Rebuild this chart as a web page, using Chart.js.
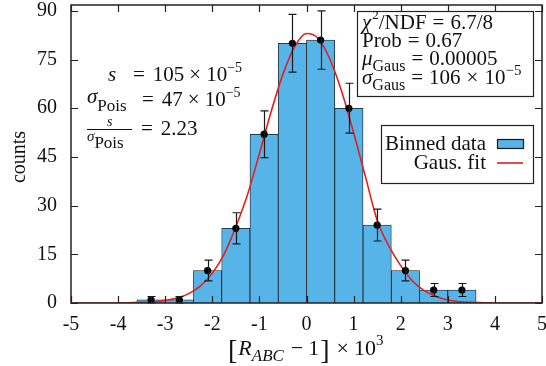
<!DOCTYPE html>
<html>
<head>
<meta charset="utf-8">
<script src="https://cdn.jsdelivr.net/npm/chart.js@4.4.1/dist/chart.umd.min.js"></script>
<style>
  html, body { margin: 0; padding: 0; background: #fff; }
  #wrap { width: 546px; height: 366px; }
</style>
</head>
<body>
<div id="wrap"><canvas id="c" width="546" height="366"></canvas></div>
<script>
// histogram bins (x in units of 1e-3)
const binCenters = [-3.3, -2.7, -2.1, -1.5, -0.9, -0.3, 0.3, 0.9, 1.5, 2.1, 2.7, 3.3];
const binCounts  = [1, 1, 10, 23, 52, 80, 81, 60, 24, 10, 4, 4];
const binErrors  = [1, 1, 3.2, 4.8, 7.2, 8.9, 9, 7.7, 4.9, 3.2, 2, 2];

// gaussian fit curve
const fitX = [-5, -4.5, -4, -3.5, -3.25, -3, -2.75, -2.5, -2.25, -2, -1.75, -1.5, -1.25, -1, -0.75, -0.5, -0.25,
              0, 0.25, 0.5, 0.75, 1, 1.25, 1.5, 1.75, 2, 2.25, 2.5, 2.75, 3, 3.25, 3.5, 4, 4.5, 5];
const fitY = [0, 0, 0, 0.2, 0.4, 0.8, 1.5, 2.9, 5.3, 9.2, 15, 23.5, 33.5, 46, 59, 70.5, 79,
              83, 81.5, 75, 65, 52.5, 39, 25.5, 17.5, 11.5, 6.8, 3.8, 2, 0.9, 0.4, 0.2, 0, 0, 0];

const xTicks = [-5, -4, -3, -2, -1, 0, 1, 2, 3, 4, 5];
const yTicks = [0, 15, 30, 45, 60, 75, 90];

const SERIF = '"Liberation Serif", "DejaVu Serif", serif';
const INK = '#111';

function f(size, style) { return (style ? style + ' ' : '') + size + 'px ' + SERIF; }

// draw a run of text pieces left to right
function rich(ctx, x, y, parts) {
  for (const p of parts) {
    x += p.pre || 0;
    ctx.font = p.font || f(21);
    ctx.fillText(p.t, x, y + (p.dy || 0));
    x += ctx.measureText(p.t).width + (p.gap || 0);
  }
  return x;
}

const EQ = { t: '=', font: f(21), pre: 6, gap: 6 };

const decor = {
  id: 'decor',
  afterDatasetsDraw(chart) {
    const ctx = chart.ctx;
    const xs = chart.scales.x, ys = chart.scales.y;
    const a = chart.chartArea;
    ctx.save();

    // error bars
    ctx.strokeStyle = '#1a1a1a';
    ctx.lineWidth = 1.2;
    binCenters.forEach((c, i) => {
      const px = Math.round(xs.getPixelForValue(c)) + 0.5;
      const lo = ys.getPixelForValue(binCounts[i] - binErrors[i]);
      const hi = ys.getPixelForValue(binCounts[i] + binErrors[i]);
      ctx.beginPath();
      ctx.moveTo(px, lo); ctx.lineTo(px, hi);
      ctx.moveTo(px - 4, hi); ctx.lineTo(px + 4, hi);
      ctx.moveTo(px - 4, lo); ctx.lineTo(px + 4, lo);
      ctx.stroke();
    });

    // frame + inward ticks
    ctx.strokeStyle = '#222';
    ctx.lineWidth = 1.5;
    ctx.strokeRect(a.left, a.top, a.right - a.left, a.bottom - a.top);
    ctx.lineWidth = 1.2;
    ctx.beginPath();
    xTicks.forEach(v => {
      const px = Math.round(xs.getPixelForValue(v)) + 0.5;
      ctx.moveTo(px, a.bottom); ctx.lineTo(px, a.bottom - 7);
      ctx.moveTo(px, a.top); ctx.lineTo(px, a.top + 7);
    });
    yTicks.forEach(v => {
      const py = Math.round(ys.getPixelForValue(v)) + 0.5;
      ctx.moveTo(a.left, py); ctx.lineTo(a.left + 7, py);
      ctx.moveTo(a.right, py); ctx.lineTo(a.right - 7, py);
    });
    ctx.stroke();
    ctx.restore();
  },
  afterDraw(chart) {
    const ctx = chart.ctx;
    ctx.save();
    ctx.fillStyle = INK;
    ctx.textBaseline = 'alphabetic';
    ctx.textAlign = 'left';

    // y title
    ctx.save();
    ctx.translate(25, 157);
    ctx.rotate(-Math.PI / 2);
    ctx.textAlign = 'center';
    ctx.font = f(20);
    ctx.fillText('counts', 0, 0);
    ctx.restore();

    // x title
    rich(ctx, 228, 359, [
      { t: '[', font: f(28), gap: 1 },
      { t: 'R', font: f(22, 'italic'), dy: -4 },
      { t: 'ABC', font: f(17, 'italic'), dy: 2, gap: 3 },
      { t: '\u2212', font: f(22), pre: 4, gap: 5, dy: -4 },
      { t: '1', font: f(22), dy: -4, gap: 1 },
      { t: ']', font: f(28), gap: 7 },
      { t: '\u00d7', font: f(22), dy: -4, gap: 5 },
      { t: '10', font: f(22), dy: -4 },
      { t: '3', font: f(15), dy: -14 }
    ]);

    // left annotation
    rich(ctx, 108, 81, [{ t: 's', font: f(21, 'italic') }]);
    rich(ctx, 127, 81, [
      EQ,
      { t: '105', font: f(21), pre: 2, gap: 5 },
      { t: '\u00d7', font: f(21), gap: 5 },
      { t: '10', font: f(21) },
      { t: '\u22125', font: f(14), dy: -9 }
    ]);
    rich(ctx, 87, 103, [
      { t: '\u03c3', font: f(21, 'italic') },
      { t: 'Pois', font: f(17), dy: 8 }
    ]);
    rich(ctx, 136, 106, [
      EQ,
      { t: '47', font: f(21), pre: 2, gap: 5 },
      { t: '\u00d7', font: f(21), gap: 5 },
      { t: '10', font: f(21) },
      { t: '\u22125', font: f(14), dy: -9 }
    ]);
    ctx.font = f(14, 'italic');
    ctx.fillText('s', 107, 126);
    ctx.fillRect(87, 129, 45, 1);
    rich(ctx, 87, 141, [
      { t: '\u03c3', font: f(15, 'italic') },
      { t: 'Pois', font: f(17), dy: 7 }
    ]);
    rich(ctx, 135, 135, [EQ, { t: '2.23', font: f(21), pre: 2 }]);

    // stats box
    ctx.fillStyle = '#fff';
    ctx.fillRect(357, 11, 176, 85);
    ctx.strokeStyle = '#222';
    ctx.lineWidth = 1.2;
    ctx.strokeRect(357.5, 11.5, 176, 85);
    ctx.fillStyle = INK;
    rich(ctx, 362, 29, [
      { t: '\u03c7', font: f(21, 'italic'), gap: 1 },
      { t: '2', font: f(13), dy: -10 },
      { t: '/NDF', font: f(21) },
      EQ,
      { t: '6.7/8', font: f(21) }
    ]);
    rich(ctx, 362, 47, [
      { t: 'Prob', font: f(21) },
      EQ,
      { t: '0.67', font: f(21) }
    ]);
    rich(ctx, 362, 65, [
      { t: '\u03bc', font: f(21, 'italic') },
      { t: 'Gaus', font: f(16), dy: 6 },
      EQ,
      { t: '0.00005', font: f(21) }
    ]);
    rich(ctx, 362, 84, [
      { t: '\u03c3', font: f(21, 'italic') },
      { t: 'Gaus', font: f(16), dy: 6 },
      EQ,
      { t: '106', font: f(21), gap: 6 },
      { t: '\u00d7', font: f(21), gap: 6 },
      { t: '10', font: f(21) },
      { t: '\u22125', font: f(15), dy: -9 }
    ]);

    // legend box
    ctx.fillStyle = '#fff';
    ctx.fillRect(381, 125, 152, 58);
    ctx.strokeRect(381.5, 125.5, 152, 58);
    ctx.fillStyle = INK;
    ctx.textAlign = 'right';
    ctx.font = f(21);
    ctx.fillText('Binned data', 486, 150);
    ctx.fillText('Gaus. fit', 486, 169);
    ctx.fillStyle = '#56b4e9';
    ctx.fillRect(497, 139, 26, 9);
    ctx.strokeStyle = '#1a1a1a';
    ctx.strokeRect(497.5, 139.5, 26, 9);
    ctx.strokeStyle = '#e3201b';
    ctx.lineWidth = 1.6;
    ctx.beginPath();
    ctx.moveTo(497, 163); ctx.lineTo(523, 163);
    ctx.stroke();
    ctx.restore();
  }
};

const ctx = document.getElementById('c').getContext('2d');
new Chart(ctx, {
  type: 'bar',
  data: {
    datasets: [
      {
        type: 'bar',
        label: 'Binned data',
        data: binCenters.map((x, i) => ({ x: x, y: binCounts[i] })),
        backgroundColor: '#56b4e9',
        borderColor: '#1a1a1a',
        borderWidth: 0.8,
        barPercentage: 1,
        categoryPercentage: 1,
        order: 3
      },
      {
        type: 'line',
        label: 'Gaus. fit',
        data: fitX.map((x, i) => ({ x: x, y: fitY[i] })),
        borderColor: '#e3201b',
        borderWidth: 1.6,
        pointRadius: 0,
        cubicInterpolationMode: 'monotone',
        fill: false,
        order: 2
      },
      {
        type: 'scatter',
        label: 'points',
        data: binCenters.map((x, i) => ({ x: x, y: binCounts[i] })),
        backgroundColor: '#000',
        borderWidth: 0,
        pointRadius: 3.6,
        order: 1
      }
    ]
  },
  options: {
    responsive: false,
    animation: false,
    events: [],
    layout: { padding: { top: 5, right: 4, left: 0, bottom: 0 } },
    plugins: { legend: { display: false }, tooltip: { enabled: false } },
    scales: {
      x: {
        type: 'linear',
        min: -5,
        max: 5,
        offset: false,
        grid: { display: false },
        border: { display: false },
        afterBuildTicks: s => { s.ticks = xTicks.map(v => ({ value: v })); },
        afterFit: s => { s.height = 63; s.paddingLeft = 0; s.paddingRight = 0; },
        ticks: {
          autoSkip: false,
          maxRotation: 0,
          padding: 2,
          color: INK,
          font: { family: SERIF, size: 20 },
          callback: v => String(v)
        }
      },
      y: {
        min: 0,
        max: 91.8,
        grid: { display: false },
        border: { display: false },
        afterBuildTicks: s => { s.ticks = yTicks.map(v => ({ value: v })); },
        afterFit: s => { s.width = 71; s.paddingTop = 0; s.paddingBottom = 0; },
        ticks: {
          padding: 6,
          color: INK,
          font: { family: SERIF, size: 20 }
        }
      }
    }
  },
  plugins: [decor]
});
</script>
</body>
</html>
